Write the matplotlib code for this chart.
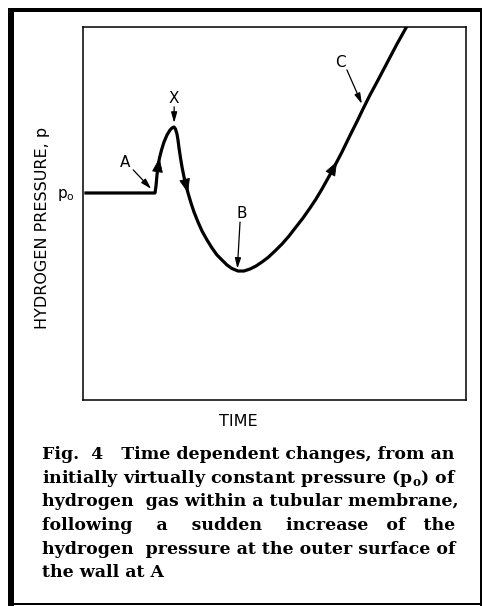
import matplotlib
matplotlib.use("Agg")
import matplotlib.pyplot as plt
from matplotlib.patches import Rectangle

time = [0.78, 18.80, 19.06, 19.32, 19.58, 19.97, 20.50, 21.15, 21.93, 22.72,
        23.24, 23.76, 24.15, 24.54, 24.80, 25.07, 25.46, 25.85, 26.37, 26.89,
        27.42, 28.20, 28.98, 30.03, 31.07, 32.38, 33.68, 34.99, 36.29, 37.60,
        38.90, 40.47, 42.04, 43.60, 45.17, 46.74, 48.30, 50.13, 51.96, 53.79,
        55.61, 57.44, 59.27, 60.84, 62.40, 63.71, 65.01, 66.32, 67.62, 69.71,
        71.54, 73.11, 74.93, 76.76, 79.37, 81.98, 84.46]
pressure = [55.50, 55.50, 57.37, 60.32, 62.73, 64.88, 67.02, 69.17, 71.05, 72.39,
            72.92, 73.19, 72.65, 71.31, 69.71, 67.56, 64.88, 62.47, 59.79, 57.64,
            55.50, 52.82, 50.40, 47.72, 45.31, 42.90, 40.75, 38.87, 37.53, 36.19,
            35.25, 34.58, 34.58, 35.12, 35.92, 37.00, 38.20, 39.95, 41.82, 43.97,
            46.38, 48.79, 51.47, 53.89, 56.57, 58.98, 61.39, 63.94, 66.49, 70.91,
            74.66, 78.02, 81.77, 85.25, 90.35, 95.44, 100.0]
p0 = 55.5

# curve points where a direction arrowhead ends
arrow_idx = [5, 20, 47]

# point labels: text, text position, arrow tail, arrow tip
labels = ["A", "X", "B", "C"]
label_xy = [(11.0, 63.8), (23.8, 80.7), (41.5, 50.1), (67.1, 90.6)]
tail_xy = [(13.1, 61.7), (23.8, 78.6), (41.0, 47.7), (68.9, 88.5)]
tip_xy = [(17.8, 56.6), (23.8, 74.3), (40.3, 35.2), (72.8, 79.4)]

caption = ["Fig. 4   Time dependent changes, from an",
           r"initially virtually constant pressure (p$_\mathregular{o}$) of",
           "hydrogen gas within a tubular membrane,",
           "following a sudden increase of the",
           "hydrogen pressure at the outer surface of",
           "the wall at A"]

W, H = 482, 606
fig = plt.figure(figsize=(W / 100, H / 100), dpi=100)

# outer frame of the printed figure
def box(x0, y0, x1, y1):
    fig.add_artist(Rectangle((x0 / W, 1 - y1 / H), (x1 - x0) / W, (y1 - y0) / H,
                             transform=fig.transFigure, color="black", lw=0))

box(8, 8, 14, 606)
box(8, 8, 482, 12)
box(480, 8, 482, 606)
box(8, 603, 482, 605)

ax = fig.add_axes([83 / W, 1 - 400 / H, (466 - 83) / W, (400 - 27) / H])
ax.plot(time, pressure, color="black", lw=2.3, solid_joinstyle="round")
ax.set_xlim(0, 100)
ax.set_ylim(0, 100)
ax.set_xticks([])
for s in ax.spines.values():
    s.set_linewidth(1.1)

for i in arrow_idx:
    ax.annotate("", xy=(time[i], pressure[i]), xytext=(time[i - 2], pressure[i - 2]),
                arrowprops=dict(arrowstyle="-|>,head_length=0.7,head_width=0.27",
                                color="black", lw=0.6, mutation_scale=13, shrinkA=0, shrinkB=0))

sans = "DejaVu Sans"
for lab, xy, tail, tip in zip(labels, label_xy, tail_xy, tip_xy):
    ax.text(xy[0], xy[1], lab, ha="center", va="center", fontsize=11, family=sans)
    ax.annotate("", xy=tip, xytext=tail,
                arrowprops=dict(arrowstyle="-|>,head_length=0.7,head_width=0.2",
                                color="black", lw=0.9, mutation_scale=9, shrinkA=0, shrinkB=0))

ax.set_yticks([p0])
ax.set_yticklabels([r"p$_\mathregular{o}$"], fontsize=11, family=sans)
ax.tick_params(axis="y", length=0, pad=6)

fig.text(43 / W, 1 - 228 / H, "HYDROGEN PRESSURE, p", rotation=90, ha="center",
         va="center", fontsize=11.5, family=sans)
fig.text(238 / W, 1 - 421 / H, "TIME", ha="center", va="center", fontsize=11.5, family=sans)

# caption, justified between x=42 and x=457
left, right = 42, 457
base = [459, 482.6, 506, 530, 553.5, 577]
serif = "DejaVu Serif"
renderer = fig.canvas.get_renderer()

# size the font so the fullest lines fill the column
probe = fig.text(0, 0, "", fontsize=10, family=serif, weight="bold")
widest = 0
for k in [0, 1, 2, 4]:
    probe.set_text(caption[k])
    widest = max(widest, probe.get_window_extent(renderer).width)
probe.remove()
fs = 10 * (right - left) / widest

for k, line in enumerate(caption):
    t = fig.text(left / W, 1 - base[k] / H, line, ha="left", va="baseline",
                 fontsize=fs, family=serif, weight="bold")
    if k == len(caption) - 1:
        continue
    words = line.split(" ")
    gaps = [1] * (len(words) - 1)
    n = 0
    while t.get_window_extent(renderer).width < right - left - 3 and n < 60:
        gaps[n % len(gaps)] += 1
        n += 1
        t.set_text(words[0] + "".join(" " * g + w for g, w in zip(gaps, words[1:])))

fig.savefig("out.png", dpi=100)
